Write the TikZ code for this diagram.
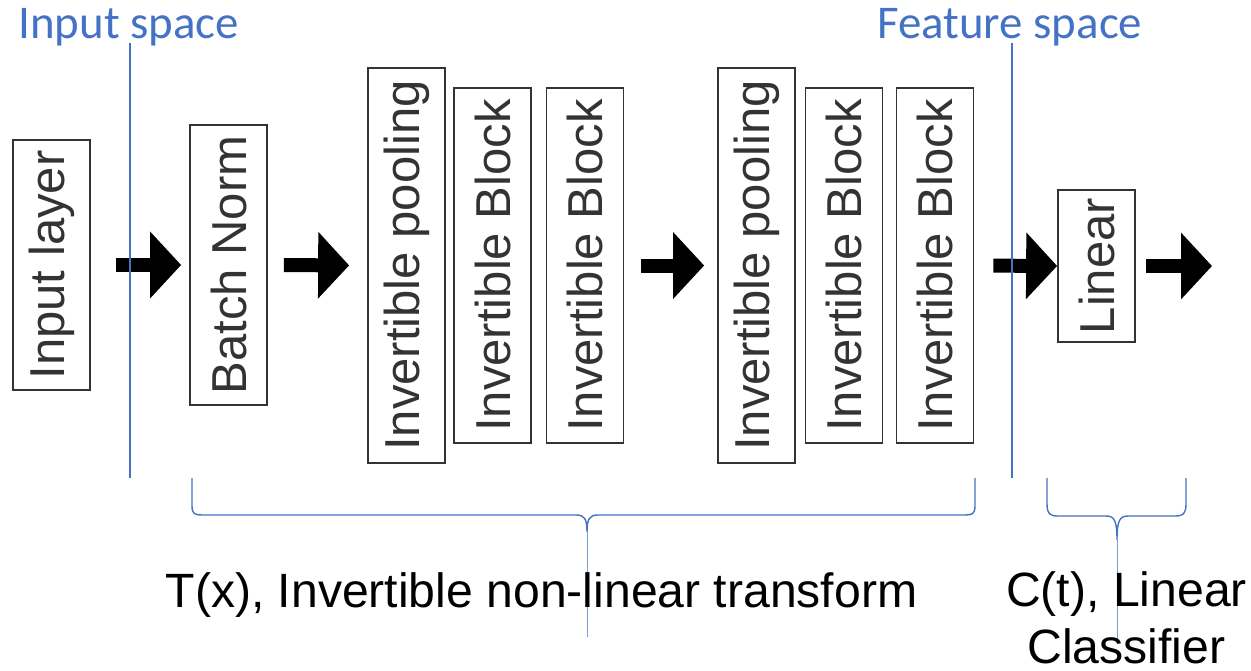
\documentclass[tikz,border=0pt]{standalone}
\usepackage{fontspec}
\setmainfont{Liberation Sans}
\newfontfamily\calfont{Carlito}
\usetikzlibrary{arrows.meta}
\definecolor{officeblue}{HTML}{4472C4}
\tikzset{
  layer/.style={draw=black!80, line width=1pt, text=black!80, rectangle, minimum width=1.54cm, inner sep=1pt, font=\fontsize{27.9}{33}\selectfont},
  flow/.style={line width=0.28cm, -{Triangle[length=0.62cm,width=1.3cm]}},
  divider/.style={officeblue, line width=0.8pt},
  bracket/.style={officeblue, line width=0.8pt},
  spacelabel/.style={anchor=base west, inner sep=0pt, text=officeblue, font=\calfont\fontsize{26.7}{32}\selectfont},
}
\begin{document}
\begin{tikzpicture}[x=0.02cm,y=-0.02cm]
\useasboundingbox (0,0) rectangle (1251,670);

\node(Inp)[layer, minimum height=5cm] at (51.5,265){\rotatebox{90}{Input layer}};
\node(BN)[layer, minimum height=5.6cm] at (228.5,265){\rotatebox{90}{Batch Norm}};
\node(Pool1)[layer, minimum height=7.9cm] at (406.5,265.5){\rotatebox{90}{Invertible pooling}};
\node(Blk1)[layer, minimum height=7.1cm] at (492.5,265.5){\rotatebox{90}{Invertible Block}};
\node(Blk2)[layer, minimum height=7.1cm] at (585,265.5){\rotatebox{90}{Invertible Block}};
\node(Pool2)[layer, minimum height=7.9cm] at (756.5,265.5){\rotatebox{90}{Invertible pooling}};
\node(Blk3)[layer, minimum height=7.1cm] at (844,265.5){\rotatebox{90}{Invertible Block}};
\node(Blk4)[layer, minimum height=7.1cm] at (935,265.5){\rotatebox{90}{Invertible Block}};
\node(Lin)[layer, minimum height=3.04cm] at (1096.5,266){\rotatebox{90}{Linear}};
\coordinate(Out) at (1212,266);

\draw[flow, shorten <=0.5cm, shorten >=0.16cm] (Inp.east) -- (BN.west);
\draw[flow, shorten <=0.32cm, shorten >=0.36cm] (BN.east) -- (Pool1.west);
\draw[flow, shorten <=0.34cm, shorten >=0.26cm] (Blk2.east) -- (Pool2.west);
\draw[flow, shorten <=0.38cm] (Blk4.east) -- (Lin.west);
\draw[flow, shorten <=0.2cm] (Lin.east) -- (Out);

% input / feature space
\node(InSp)[spacelabel] at (18,38){Input space};
\node(FeatSp)[spacelabel] at (877,38){Feature space};
\draw[divider] (130,43) -- (130,478);
\draw[divider] (1012,43) -- (1012,478);

% braces
\draw[bracket] (192,478) -- (192,506) .. controls (192,514) and (195,515) .. (202,515) -- (576,515)
  .. controls (584,515) and (587,518) .. (587,532) .. controls (587,518) and (590,515) .. (598,515)
  -- (965,515) .. controls (972,515) and (975,514) .. (975,506) -- (975,478);
\draw[officeblue!70, line width=0.4pt] (587,532) -- (587,637);
\draw[bracket] (1047,478) -- (1047,504) .. controls (1047,514) and (1050,516) .. (1058,516) -- (1106,516)
  .. controls (1114,516) and (1117,520) .. (1117,540) .. controls (1117,520) and (1120,516) .. (1128,516)
  -- (1175,516) .. controls (1183,516) and (1186,514) .. (1186,504) -- (1186,478);
\draw[officeblue!70, line width=0.4pt] (1117,540) -- (1117,640);

\node(TLab)[anchor=base, font=\fontsize{27.4}{33}\selectfont] at (541.5,607){T(x), Invertible non-linear transform};
\node(CLab)[anchor=base, align=center, inner sep=0pt, font=\fontsize{27.4}{31.9}\selectfont] at (1126.5,663){C(t), Linear\\Classifier};
\end{tikzpicture}
\end{document}
